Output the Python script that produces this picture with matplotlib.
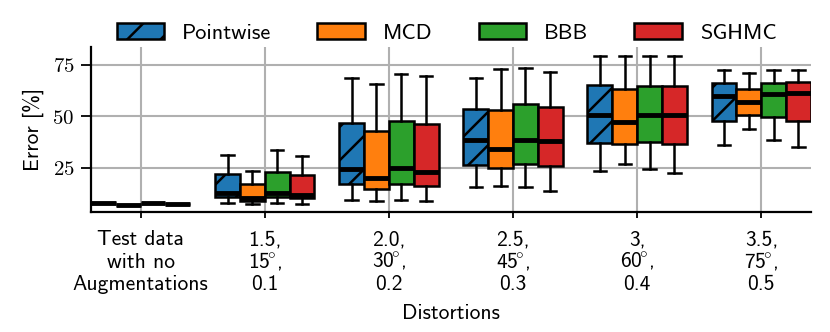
import matplotlib
matplotlib.use("Agg")
import matplotlib.pyplot as plt
from matplotlib.patches import Patch

plt.rcParams['font.family'] = ['cmss10', 'DejaVu Sans']
plt.rcParams['mathtext.fontset'] = 'cm'
plt.rcParams['axes.unicode_minus'] = False
plt.rcParams['hatch.linewidth'] = 1.8
plt.rcParams['hatch.color'] = 'black'

# categorie sull'asse x
gruppi = ["Test data\nwith no\nAugmentations", "1.5,\n15$\\!^{\\circ}$,\n0.1", "2.0,\n30$\\!^{\\circ}$,\n0.2",
          "2.5,\n45$\\!^{\\circ}$,\n0.3", "3,\n60$\\!^{\\circ}$,\n0.4", "3.5,\n75$\\!^{\\circ}$,\n0.5"]
metodi = ["Pointwise", "MCD", "BBB", "SGHMC"]
colori = ["#1f77b4", "#ff7f0e", "#2ca02c", "#d62728"]
ytick_val = [25, 50, 75]

# statistiche dei box
pw_lo = [7.9, 8.0, 9.5, 15.8, 23.5, 36.2]
pw_q1 = [7.9, 10.9, 17.2, 26.5, 37.1, 47.8]
pw_med = [7.9, 12.9, 24.5, 38.6, 50.7, 59.9]
pw_q3 = [7.9, 22.1, 46.8, 53.6, 65.3, 66.3]
pw_hi = [7.9, 31.3, 68.7, 68.7, 79.4, 72.6]

mcd_lo = [7.0, 7.5, 9.0, 16.3, 26.9, 43.9]
mcd_q1 = [7.0, 9.0, 14.8, 25.0, 36.6, 50.7]
mcd_med = [7.0, 10.4, 20.1, 34.2, 47.3, 57.0]
mcd_q3 = [7.0, 17.2, 43.0, 53.2, 63.3, 63.3]
mcd_hi = [7.0, 23.5, 65.8, 73.1, 79.4, 71.1]

bbb_lo = [8.0, 8.0, 9.5, 15.8, 24.5, 38.6]
bbb_q1 = [8.0, 10.9, 17.2, 26.9, 37.6, 49.8]
bbb_med = [8.0, 12.9, 25.0, 38.6, 50.7, 60.9]
bbb_q3 = [8.0, 23.1, 47.8, 56.1, 64.8, 66.3]
bbb_hi = [8.0, 33.7, 70.6, 73.5, 79.4, 72.6]

sg_lo = [7.5, 7.5, 9.0, 13.8, 22.6, 35.2]
sg_q1 = [7.5, 10.4, 16.3, 26.0, 36.6, 47.8]
sg_med = [7.5, 11.9, 23.1, 38.1, 50.7, 61.4]
sg_q3 = [7.5, 21.6, 46.4, 54.6, 64.8, 66.7]
sg_hi = [7.5, 30.8, 69.7, 71.6, 79.4, 72.6]

dati = [(pw_lo, pw_q1, pw_med, pw_q3, pw_hi),
        (mcd_lo, mcd_q1, mcd_med, mcd_q3, mcd_hi),
        (bbb_lo, bbb_q1, bbb_med, bbb_q3, bbb_hi),
        (sg_lo, sg_q1, sg_med, sg_q3, sg_hi)]

fig = plt.figure(figsize=(8.3, 3.32), dpi=100)
ax = fig.add_axes([0.1096, 0.3614, 0.8674, 0.497])

larg = 0.2
offsets = [-0.3, -0.1, 0.1, 0.3]
for k, (lo, q1, med, q3, hi) in enumerate(dati):
    stats = []
    for i in range(len(gruppi)):
        stats.append(dict(whislo=lo[i], q1=q1[i], med=med[i], q3=q3[i], whishi=hi[i], fliers=[]))
    pos = [i + offsets[k] for i in range(len(gruppi))]
    ax.bxp(stats, positions=pos, widths=larg, patch_artist=True, showfliers=False,
           manage_ticks=False,
           boxprops=dict(facecolor=colori[k], edgecolor='black', linewidth=1.8,
                         hatch='/' if k == 0 else None),
           medianprops=dict(color='black', linewidth=3.5),
           whiskerprops=dict(color='black', linewidth=1.8),
           capprops=dict(color='black', linewidth=1.8))

ax.set_xlim(-0.4, 5.4)
ax.set_ylim(3.6, 83.7)
ax.set_xticks(range(len(gruppi)))
ax.set_xticklabels([""] * len(gruppi))
# etichette su tre righe, una riga alla volta (linea base fissa)
righe_off = [-24, -40, -56.5]
for i, g in enumerate(gruppi):
    for j, riga in enumerate(g.split("\n")):
        ax.annotate(riga, xy=(i, 0), xycoords=ax.get_xaxis_transform(),
                    xytext=(0, righe_off[j]), textcoords='offset points',
                    ha='center', va='baseline', fontsize=15.5)
ax.set_yticks(ytick_val)
ax.set_yticklabels(["$%d$" % v for v in ytick_val], fontsize=15)
ax.tick_params(axis='y', length=7, width=1.3, pad=5)
ax.tick_params(axis='x', length=4, width=1.3, pad=8)
ax.grid(True, color='#b0b0b0', linewidth=1.5)
ax.set_axisbelow(True)
for s in ['top', 'right']:
    ax.spines[s].set_visible(False)
for s in ['left', 'bottom']:
    ax.spines[s].set_linewidth(1.6)

ax.set_ylabel("Error [%]", fontsize=15.5, labelpad=6)
ax.set_xlabel("Distortions", fontsize=15.5)
ax.xaxis.set_label_coords(0.5, -0.56)

maniglie = [Patch(facecolor=colori[k], edgecolor='black', linewidth=1.8,
                  hatch='/' if k == 0 else None, label=metodi[k]) for k in range(4)]
ax.legend(handles=maniglie, loc='lower center', bbox_to_anchor=(0.494, 0.985), ncol=4,
          frameon=False, fontsize=16, handlelength=2.15, handleheight=0.72,
          columnspacing=2.07, handletextpad=0.8, borderaxespad=0.0, borderpad=0.3)

fig.savefig("out.png", dpi=100)
